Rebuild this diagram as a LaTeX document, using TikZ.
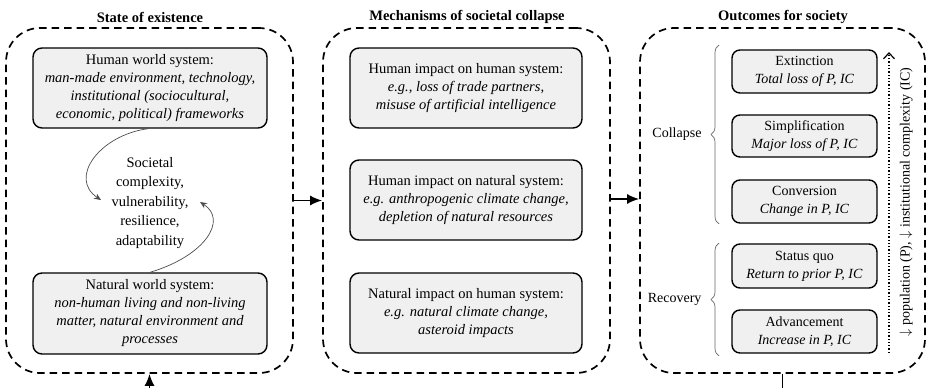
\documentclass[tikz,border=0pt]{standalone}
\usepackage{fontspec}
\setmainfont{Liberation Serif}
\usetikzlibrary{arrows.meta,decorations.pathreplacing}
\begin{document}
\begin{tikzpicture}[x=1pt,y=-1pt,
  panel/.style={draw, line width=1.7pt, dash pattern=on 7.5pt off 5pt, rounded corners=34pt, minimum height=345pt, inner sep=0pt},
  sysbox/.style={draw, line width=1.4pt, rounded corners=9pt, fill=black!6, align=center, inner sep=0pt,
    font=\fontsize{14.5}{18}\selectfont, minimum width=234pt, minimum height=80pt},
  outbox/.style={draw, line width=1.4pt, rounded corners=8pt, fill=black!6, align=center, inner sep=0pt,
    font=\fontsize{14}{18}\selectfont, minimum width=145pt, minimum height=43pt},
  ttl/.style={font=\fontsize{14.5}{18}\selectfont\bfseries},
  lbl/.style={font=\fontsize{14}{18}\selectfont},
  flow/.style={line width=1.6pt, -{Latex[length=12pt,width=10pt]}},
  curve/.style={draw=black!70, line width=0.7pt, -{Stealth[length=7pt,width=6pt]}},
  brc/.style={draw=black!60, line width=0.7pt, decorate, decoration={brace, amplitude=8pt}}
]
\useasboundingbox (0,0) rectangle (929,388);

% panels
\node[panel, minimum width=287pt] (lp) at (149.5,200.5) {};
\node[panel, minimum width=287pt] (mp) at (466.5,200.5) {};
\node[panel, minimum width=285pt] (rp) at (782.5,200.5) {};

% titles
\node[ttl] (t1) at (150,17) {State of existence};
\node[ttl] (t2) at (467,17) {Mechanisms of societal collapse};
\node[ttl] (t3) at (783,17) {Outcomes for society};

% left panel
\node[sysbox] (hws) at (150,88) {Human world system:\\\textit{man-made environment, technology,}\\\textit{institutional (sociocultural,}\\\textit{economic, political) frameworks}};
\node[sysbox, minimum height=81pt] (nws) at (150,313.5) {Natural world system:\\\textit{non-human living and non-living}\\\textit{matter, natural environment and}\\\textit{processes}};
\node[align=center, font=\fontsize{14.5}{19.5}\selectfont, inner sep=0pt] (soc) at (150,203) {Societal\\complexity,\\vulnerability,\\resilience,\\adaptability};
\coordinate (a1) at (101,200);
\coordinate (a2) at (200,202);
\draw[curve] ([xshift=-2pt]hws.south) .. controls (100,135) and (68,178) .. (a1);
\draw[curve] (nws.north) .. controls (205,256) and (228,220) .. (a2);

% middle panel
\node[sysbox, minimum width=232pt] (m1) at (466,88) {Human impact on human system:\\\textit{e.g., loss of trade partners,}\\\textit{misuse of artificial intelligence}};
\node[sysbox, minimum width=232pt] (m2) at (466,200) {Human impact on natural system:\\\textit{e.g. anthropogenic climate change,}\\\textit{depletion of natural resources}};
\node[sysbox, minimum width=232pt] (m3) at (466,313) {Natural impact on human system:\\\textit{e.g. natural climate change,}\\\textit{asteroid impacts}};

% right panel
\node[outbox] (o1) at (804.5,71.5) {Extinction\\\textit{Total loss of P, IC}};
\node[outbox, minimum height=42pt] (o2) at (804.5,136) {Simplification\\\textit{Major loss of P, IC}};
\node[outbox] (o3) at (804.5,201.5) {Conversion\\\textit{Change in P, IC}};
\node[outbox, minimum height=44pt] (o4) at (804.5,266) {Status quo\\\textit{Return to prior P, IC}};
\node[outbox] (o5) at (804.5,331.5) {Advancement\\\textit{Increase in P, IC}};

\coordinate (c1) at (719,224);
\coordinate (c2) at (719,45);
\coordinate (r1) at (719,356);
\coordinate (r2) at (719,243);
\draw[brc] (c1) -- (c2);
\draw[brc] (r1) -- (r2);
\node[lbl, anchor=east] (col) at (705,134.5) {Collapse};
\node[lbl, anchor=east] (rec) at (705,299.5) {Recovery};

\coordinate (d1) at (889,353);
\coordinate (d2) at (889,52);
\draw[line width=1.3pt, dotted, -{Straight Barb[length=6pt,width=11pt,line width=1.2pt]}] (d1) -- (d2);
\node[lbl, rotate=90, inner sep=0pt] (axis) at (906,202) {$\downarrow$ population (P), $\downarrow$ institutional complexity (IC)};

% connectors
\draw[flow] (lp.east) -- (mp.west);
\draw[flow] ([yshift=1.5pt]mp.east) -- ([yshift=1.5pt]rp.west);
\coordinate (bl) at (149.5,388);
\coordinate (br) at (782.5,388);
\draw[line width=1.6pt] (rp.south) -- (br);
\draw[flow] (bl) -- (lp.south);
\end{tikzpicture}
\end{document}
